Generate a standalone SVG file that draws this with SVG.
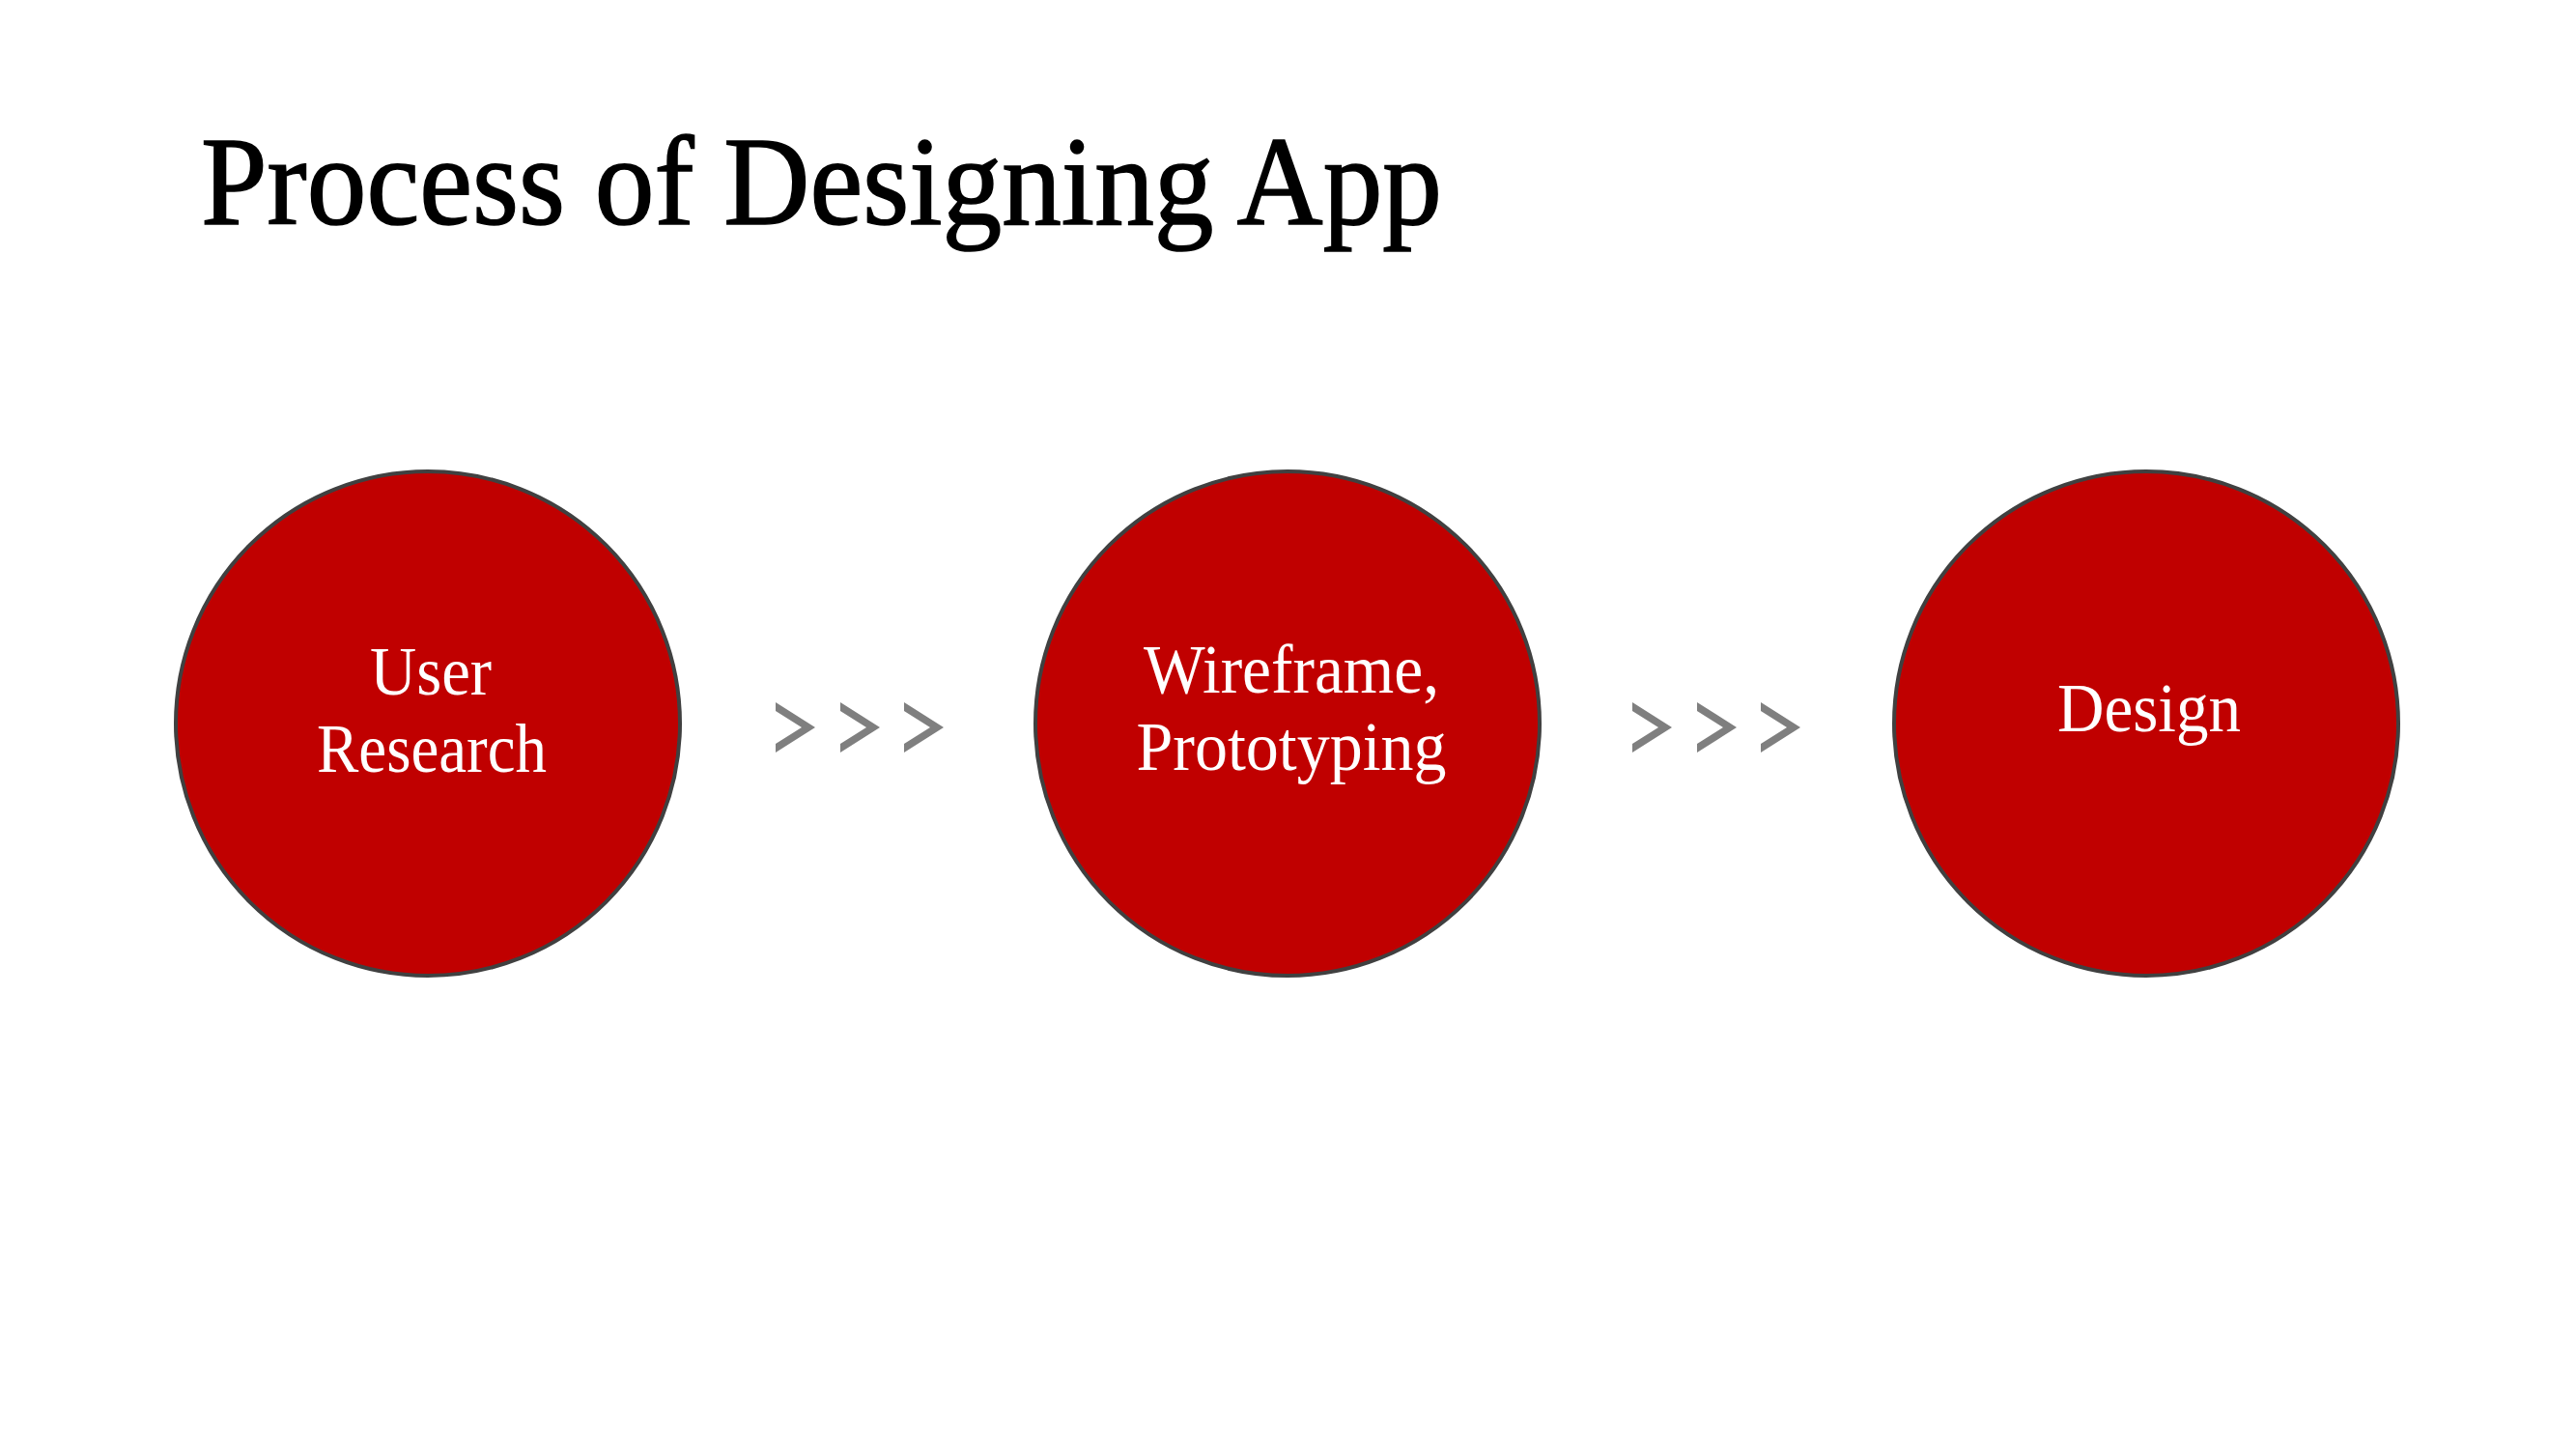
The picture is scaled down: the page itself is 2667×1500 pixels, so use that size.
<svg xmlns="http://www.w3.org/2000/svg" xmlns:xlink="http://www.w3.org/1999/xlink" width="2667" height="1500" viewBox="0 0 2667 1500">
  <style>
    .title { font-family: "Liberation Serif", "Times New Roman", serif; font-size: 131px; fill: #000000; stroke: #000000; stroke-width: 1.6; }
    .step { fill: #C00000; stroke: #404040; stroke-width: 4; }
    .label { font-family: "Liberation Serif", "Times New Roman", serif; font-size: 72px; fill: #FFFFFF; text-anchor: middle; }
    .chev { fill: #7F7F7F; }
  </style>
  <defs>
    <!-- single chevron, 41 wide and 52 tall, arms cut vertically at the left -->
    <path id="chevron" class="chev" d="M0,0 L41,26 L0,52 L0,43 L27,26 L0,9 Z"/>
  </defs>

  <rect width="2667" height="1500" fill="#FFFFFF"/>

  <text class="title" x="208" y="232" textLength="1285" lengthAdjust="spacingAndGlyphs">Process of Designing App</text>

  <g id="step-user-research">
    <circle class="step" cx="443" cy="749" r="261"/>
    <text class="label" x="446" y="719" textLength="126" lengthAdjust="spacingAndGlyphs">User</text>
    <text class="label" x="447" y="799" textLength="238" lengthAdjust="spacingAndGlyphs">Research</text>
  </g>

  <g id="step-wireframe">
    <circle class="step" cx="1333" cy="749" r="261"/>
    <text class="label" x="1337" y="717" textLength="306" lengthAdjust="spacingAndGlyphs">Wireframe,</text>
    <text class="label" x="1337" y="797" textLength="321" lengthAdjust="spacingAndGlyphs">Prototyping</text>
  </g>

  <g id="step-design">
    <circle class="step" cx="2222" cy="749" r="261"/>
    <text class="label" x="2225" y="757" textLength="190" lengthAdjust="spacingAndGlyphs">Design</text>
  </g>

  <g id="connectors">
    <use xlink:href="#chevron" x="803" y="727"/>
    <use xlink:href="#chevron" x="870" y="727"/>
    <use xlink:href="#chevron" x="936" y="727"/>
    <use xlink:href="#chevron" x="1690" y="727"/>
    <use xlink:href="#chevron" x="1757" y="727"/>
    <use xlink:href="#chevron" x="1823" y="727"/>
  </g>
</svg>
